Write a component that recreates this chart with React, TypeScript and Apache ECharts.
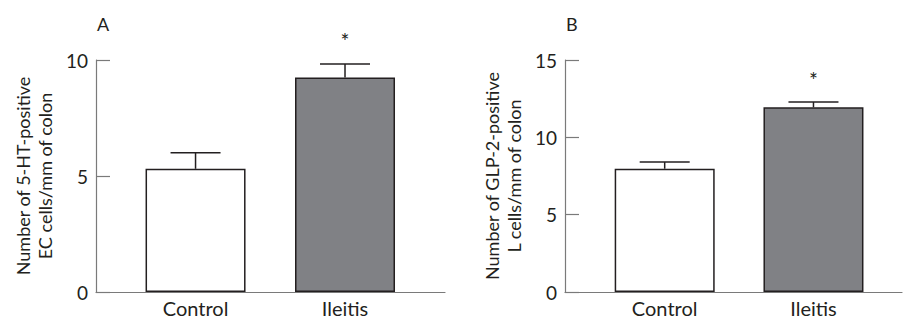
import React, { useEffect, useRef } from "react";
import * as echarts from "echarts";

const categories = ["Control", "Ileitis"];
const panelLabels = ["A", "B"];
const meansA = [5.31, 9.25];
const errorsA = [0.69, 0.58];
const meansB = [7.97, 11.94];
const errorsB = [0.43, 0.34];
const significant = [false, true];
const yTicksA = [0, 5, 10];
const yTicksB = [0, 5, 10, 15];
const yTitlesA = ["Number of 5-HT-positive", "EC cells/mm of colon"];
const yTitlesB = ["Number of GLP-2-positive", "L cells/mm of colon"];

const FONT = "Lato, 'Open Sans', sans-serif";
const TEXT = "#231f20";
const AXIS = "#7a7a7a";
const EDGE = "#231f20";
const FILLS = ["#ffffff", "#808185"];

export default function App() {
  const ref = useRef<HTMLDivElement>(null);
  useEffect(() => {
    document.body.style.margin = "0";
    const chart = echarts.init(ref.current!, null, { renderer: "svg" });
    const panels = [
      { means: meansA, errors: errorsA, ticks: yTicksA, titles: yTitlesA, grid: { left: 96, right: 458, top: 60, bottom: 28 }, xmin: 0.334, xmax: 2.669 },
      { means: meansB, errors: errorsB, ticks: yTicksB, titles: yTitlesB, grid: { left: 565, right: 1, top: 60, bottom: 28 }, xmin: 0.33, xmax: 2.595 },
    ];
    const grid: any[] = [];
    const xAxis: any[] = [];
    const yAxis: any[] = [];
    const series: any[] = [];
    panels.forEach((p, i) => {
      grid.push(p.grid);
      xAxis.push({
        type: "value",
        gridIndex: i,
        min: p.xmin,
        max: p.xmax,
        splitLine: { show: false },
        axisTick: { show: false },
        axisLine: { show: true, lineStyle: { color: AXIS, width: 1.2 } },
        axisLabel: {
          customValues: categories.map((_, k) => k + 1),
          formatter: (v: number) => categories[Math.round(v) - 1] ?? "",
          fontFamily: FONT,
          fontSize: 20,
          color: TEXT,
          margin: 6,
        },
      });
      const tmax = p.ticks[p.ticks.length - 1];
      yAxis.push({
        type: "value",
        gridIndex: i,
        min: p.ticks[0],
        max: tmax,
        interval: p.ticks[1] - p.ticks[0],
        splitLine: { show: false },
        axisLine: { show: true, lineStyle: { color: AXIS, width: 1.2 } },
        axisTick: { show: true, inside: true, length: 14, lineStyle: { color: AXIS, width: 1.2 } },
        axisLabel: { fontFamily: FONT, fontSize: 19, color: TEXT, margin: 8 },
        name: p.titles.join("\n"),
        nameLocation: "middle",
        nameRotate: 90,
        nameGap: 40,
        nameTextStyle: { fontFamily: FONT, fontSize: 18, color: TEXT, lineHeight: 22 },
      });
      series.push({
        type: "bar",
        xAxisIndex: i,
        yAxisIndex: i,
        barWidth: 100,
        data: p.means.map((m, k) => ({
          value: [k + 1, m],
          itemStyle: { color: FILLS[k], borderColor: EDGE, borderWidth: 1.5 },
        })),
      });
      series.push({
        type: "custom",
        xAxisIndex: i,
        yAxisIndex: i,
        z: 5,
        data: p.means.map((m, k) => [k + 1, m, p.errors[k], significant[k] ? 1 : 0]),
        renderItem: (params: any, api: any) => {
          const x = api.value(0);
          const m = api.value(1);
          const e = api.value(2);
          const sig = api.value(3);
          const base = api.coord([x, m]);
          const top = api.coord([x, m + e]);
          const children: any[] = [
            { type: "line", shape: { x1: base[0], y1: base[1], x2: top[0], y2: top[1] }, style: { stroke: EDGE, lineWidth: 1.5 } },
            { type: "line", shape: { x1: top[0] - 25, y1: top[1], x2: top[0] + 25, y2: top[1] }, style: { stroke: EDGE, lineWidth: 1.5 } },
          ];
          if (sig) {
            children.push({
              type: "text",
              x: top[0],
              y: top[1] - 23,
              style: { text: "*", fontFamily: FONT, fontSize: 21, fill: TEXT, align: "center", verticalAlign: "middle" },
            });
          }
          return { type: "group", children };
        },
      });
    });
    chart.setOption({
      animation: false,
      backgroundColor: "#ffffff",
      grid,
      xAxis,
      yAxis,
      series,
      graphic: [
        { type: "text", left: 97, top: 15, style: { text: panelLabels[0], fontFamily: FONT, fontSize: 18, fill: TEXT } },
        { type: "text", left: 566, top: 15, style: { text: panelLabels[1], fontFamily: FONT, fontSize: 18, fill: TEXT } },
      ],
    });
    return () => chart.dispose();
  }, []);
  return <div ref={ref} style={{ width: 903, height: 320 }} />;
}
